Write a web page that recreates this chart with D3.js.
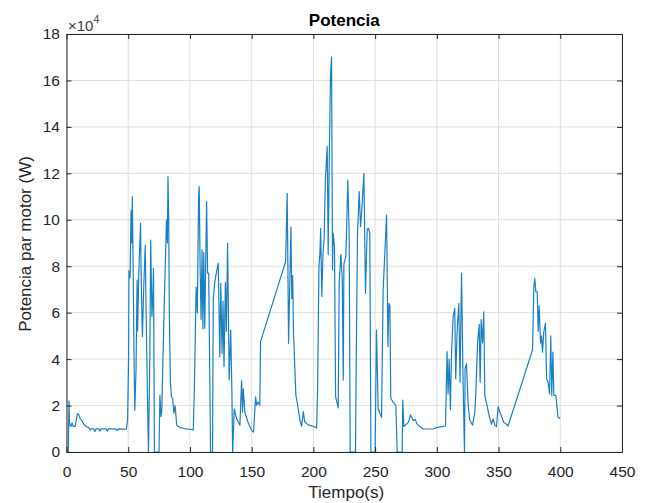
<!DOCTYPE html>
<html>
<head>
<meta charset="utf-8">
<script src="https://cdn.jsdelivr.net/npm/d3@7"></script>
<style>
  body { margin: 0; background: #fff; }
  svg { display: block; font-family: "Liberation Sans", Arial, sans-serif; }
</style>
</head>
<body>
<div id="chart"></div>
<script>
const W = 652;
const H = 503;
const margin = { top: 34, right: 30, bottom: 51, left: 66.5 };

// tiempo (s)
const tiempo = [
  0, 1.5, 2, 2.5, 3.5, 4.5, 5.5, 7, 8, 9, 10, 11, 12.5, 14, 16, 18, 19, 20, 22, 23, 24, 26, 27, 28, 32, 33, 34, 40, 41, 42,
  48.5, 49.5, 50.3, 50.6, 51.5, 52.3, 52.8, 53.3, 54, 54.6, 55.3, 56.3, 57.2, 57.6, 58.5, 60, 60.5, 61.5, 62.5, 63.8,
  64.5, 65.4, 66.4, 67.5, 68.2, 69.2, 69.8, 70.5, 70.9, 71.2, 74.9, 75.7, 76.5, 77.2, 79, 81, 81.7, 82.2, 82.8, 83.3,
  84.2, 85, 86, 87, 88, 89.3, 92, 96, 100, 102.7, 103.5, 104, 105, 106, 107, 107.5, 108.2, 109, 109.8, 110.5,
  111.2, 112, 113.5, 114.3, 115.2, 116.7, 118.3, 118.9, 120, 121, 122.9, 124.2, 125, 126, 126.8, 127.6, 128.7, 129.5, 130.5, 131.8,
  133, 134, 134.6, 135.9, 137.8, 140.5, 141.8, 142.6, 143.2, 144.5, 147, 149.9, 151.5, 153.2, 154, 155, 156.6, 157.2, 177.5, 178.8,
  179.9, 181.8, 182.5, 183.2, 183.9, 185.8, 187, 189, 190.5, 191.8, 193, 195.8, 200, 202.6, 203.4, 204.5, 205.3, 205.9, 206.8, 207.8,
  208.7, 209.7, 211.2, 212, 212.8, 213.9, 214.7, 215.5, 216, 217.1, 218, 220.1, 220.9, 222.3, 223.4, 224.2, 224.7, 226.3, 227.9, 229,
  229.8, 234.1, 234.6, 235.7, 237.1, 238.2, 239.3, 240.9, 242.2, 243.6, 244.7, 245.7, 246.6, 250, 251.1, 252.5, 255.2, 256.5, 259.3, 260.4,
  261.2, 262, 262.7, 265.2, 266.8, 267.9, 271.9, 272.4, 273.3, 275.4, 277.1, 278.7, 280.9, 282.5, 284, 286.2, 288.9, 297, 299.5, 307,
  308.3, 309.1, 310, 311, 311.8, 313.2, 314.5, 315.3, 316.4, 317.8, 318.8, 320, 321.3, 322.4, 322.9, 324, 325.4, 326.7, 328.9, 330.8,
  331.6, 333, 334.3, 335.1, 335.9, 337, 338, 338.9, 340.2, 342.4, 344.3, 345.6, 347, 348.3, 349.7, 351, 352.3, 354.2, 356.4, 357.7,
  377.5, 378.6, 379.4, 380.2, 381.3, 382.1, 382.9, 384, 384.8, 385.6, 386.7, 388, 388.9, 390.2, 391.3, 392.3, 393.1, 394, 394.8, 396.4,
  398.2, 400
];

// potencia par motor (x10^4 W)
const potencia = [
  0, 0, 2.2, 1.2, 1.1, 1.25, 1.1, 1.1, 1.4, 1.65, 1.6, 1.45, 1.35, 1.2, 1.1, 1.05, 0.95, 1.0, 1.0, 0.88, 1.0, 1.0, 0.9, 1.0, 1.0, 0.9, 1.0, 1.0, 0.92, 1.0,
  0.98, 1.4, 4.0, 7.8, 7.5, 10.4, 9.0, 11.0, 8.0, 4.5, 1.8, 3.5, 7.4, 5.2, 7.6, 9.85, 7.5, 4.97, 7.0, 8.9,
  6.0, 2.96, 0, 4.0, 9.13, 5.83, 6.5, 7.91, 3.5, 0, 0, 2.45, 1.53, 1.8, 6.0, 10.0, 9.0, 11.86, 10.0, 6.0,
  3.0, 2.38, 2.3, 1.67, 2.0, 1.15, 1.05, 1.0, 0.98, 0.95, 2.5, 3.96, 7.1, 6.0, 11.0, 11.43, 8.13, 5.7, 8.7, 5.3,
  8.6, 5.33, 10.78, 7.7, 7.7, 0, 0, 6.55, 7.26, 7.6, 8.13, 4.1, 7.26, 4.25, 6.5, 3.68, 7.3, 5.2, 8.99, 3.1,
  5.25, 2.52, 0, 1.86, 1.43, 1.15, 3.08, 1.72, 2.72, 1.7, 1.29, 0.93, 0.86, 2.38, 2.02, 2.15, 2.02, 4.75, 8.2, 11.14,
  4.68, 9.7, 6.6, 7.6, 5.11, 2.45, 2.1, 1.39, 1.1, 1.74, 1.3, 1.17, 1.1, 1.03, 2.67, 7.98, 8.55, 9.63, 6.7, 8.55,
  9.2, 11.71, 13.15, 8.5, 12.43, 16.3, 17.02, 7.84, 9.43, 8.85, 2.38, 1.9, 7.3, 8.5, 7.4, 3.1, 8.1, 8.4, 11.71, 9.3,
  0, 0, 3.24, 9.3, 11.21, 9.7, 10.5, 12.0, 6.83, 9.6, 9.63, 9.4, 0, 0, 5.25, 1.85, 1.49, 6.97, 10.2, 4.54,
  6.4, 6.3, 2.31, 2.1, 2.0, 0, 0, 2.24, 1.1, 1.2, 1.3, 1.6, 1.35, 1.4, 1.2, 1.1, 0.99, 0.99, 1.05, 1.12,
  4.32, 2.5, 4.0, 1.82, 4.1, 5.83, 6.19, 3.16, 5.17, 6.4, 3.0, 7.7, 2.94, 0, 3.59, 3.8, 2.0, 1.37, 1.16, 1.7,
  2.56, 4.7, 5.5, 3.0, 5.7, 4.7, 6.04, 2.42, 2.13, 1.55, 1.2, 1.42, 1.16, 1.09, 1.95, 1.72, 1.55, 1.28, 1.2, 1.12,
  4.39, 7.12, 7.47, 6.9, 6.9, 5.2, 6.3, 4.7, 5.0, 4.3, 5.2, 5.55, 3.16, 3.0, 2.5, 5.0, 2.44, 4.3, 2.44, 2.44,
  1.49, 1.45
].map(v => v * 1e4);

const xTicks = [0, 50, 100, 150, 200, 250, 300, 350, 400, 450];
const yTicks = [0, 20000, 40000, 60000, 80000, 100000, 120000, 140000, 160000, 180000];

const data = tiempo.map((t, i) => ({ t: t, p: potencia[i] }));

const iw = W - margin.left - margin.right;
const ih = H - margin.top - margin.bottom;

const svg = d3.select("#chart").append("svg")
  .attr("width", W)
  .attr("height", H);

const g = svg.append("g")
  .attr("transform", `translate(${margin.left},${margin.top})`);

const x = d3.scaleLinear().domain([0, 450]).range([0, iw]);
const y = d3.scaleLinear().domain([0, 180000]).range([ih, 0]);

// grid
g.append("g").selectAll("line.vg")
  .data(xTicks)
  .enter().append("line")
  .attr("x1", d => x(d)).attr("x2", d => x(d))
  .attr("y1", 0).attr("y2", ih)
  .attr("stroke", "#dfdfdf").attr("stroke-width", 1);

g.append("g").selectAll("line.hg")
  .data(yTicks)
  .enter().append("line")
  .attr("x1", 0).attr("x2", iw)
  .attr("y1", d => y(d)).attr("y2", d => y(d))
  .attr("stroke", "#dfdfdf").attr("stroke-width", 1);

// data line
const line = d3.line()
  .x(d => x(d.t))
  .y(d => y(d.p));

g.append("path")
  .datum(data)
  .attr("fill", "none")
  .attr("stroke", "#0072bd")
  .attr("stroke-width", 1.2)
  .attr("stroke-opacity", 0.9)
  .attr("stroke-linejoin", "round")
  .attr("d", line);

// axes (inward ticks, box on)
const axisColor = "#262626";
const xAxis = d3.axisBottom(x).tickValues(xTicks).tickSizeInner(-5).tickSizeOuter(0).tickPadding(13.5);
const yAxis = d3.axisLeft(y).tickValues(yTicks).tickSizeInner(-5).tickSizeOuter(0).tickPadding(6.5)
  .tickFormat(d => d / 1e4);
const xTop = d3.axisTop(x).tickValues(xTicks).tickSizeInner(-5).tickSizeOuter(0).tickFormat("");
const yRight = d3.axisRight(y).tickValues(yTicks).tickSizeInner(-5).tickSizeOuter(0).tickFormat("");

function styleAxis(sel) {
  sel.select(".domain").attr("stroke", axisColor);
  sel.selectAll(".tick line").attr("stroke", axisColor);
  sel.selectAll(".tick text").attr("fill", axisColor).attr("font-size", 15.5)
    .attr("font-family", "Liberation Sans, Arial, sans-serif");
}

g.append("g").attr("transform", `translate(0,${ih})`).call(xAxis).call(styleAxis);
g.append("g").call(yAxis).call(styleAxis);
g.append("g").call(xTop).call(styleAxis);
g.append("g").attr("transform", `translate(${iw},0)`).call(yRight).call(styleAxis);

// exponent label
const expo = svg.append("text")
  .attr("x", margin.left + 1.5)
  .attr("y", 30.5)
  .attr("fill", "#404040")
  .attr("font-size", 15);
expo.append("tspan").text("\u00d710");
expo.append("tspan").attr("dy", -8).attr("font-size", 10.5).text("4");

// title
svg.append("text")
  .attr("x", margin.left + iw / 2)
  .attr("y", 26)
  .attr("text-anchor", "middle")
  .attr("font-weight", "bold")
  .attr("font-size", 17)
  .attr("fill", "#000")
  .text("Potencia");

// axis labels
svg.append("text")
  .attr("x", margin.left + iw / 2 + 2)
  .attr("y", 497.5)
  .attr("text-anchor", "middle")
  .attr("font-size", 17)
  .attr("fill", axisColor)
  .text("Tiempo(s)");

svg.append("text")
  .attr("transform", `translate(31,${margin.top + 210}) rotate(-90)`)
  .attr("text-anchor", "middle")
  .attr("font-size", 17)
  .attr("fill", axisColor)
  .text("Potencia par motor (W)");
</script>
</body>
</html>
